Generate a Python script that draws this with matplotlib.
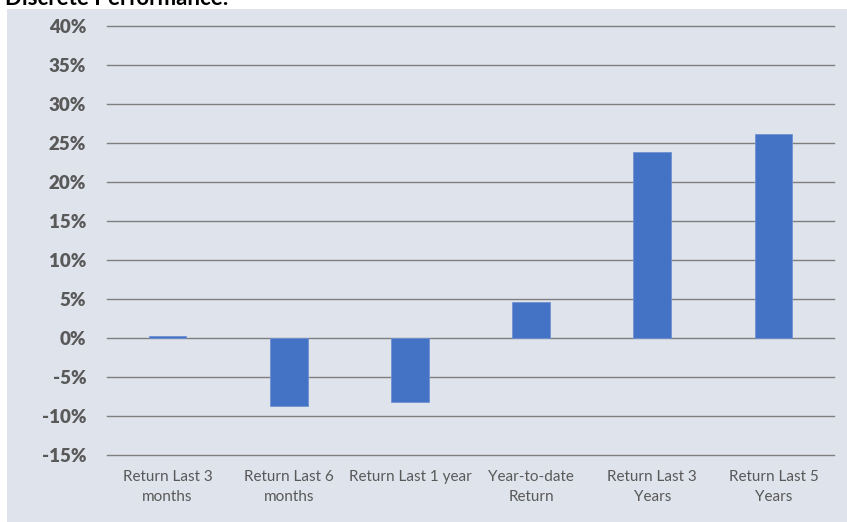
import matplotlib
matplotlib.use("Agg")
import matplotlib.pyplot as plt
from matplotlib.patches import Rectangle
from matplotlib.ticker import FuncFormatter

categories = ["Return Last 3\nmonths", "Return Last 6\nmonths", "Return Last 1 year",
              "Year-to-date\nReturn", "Return Last 3\nYears", "Return Last 5\nYears"]
values = [0.3, -8.7, -8.2, 4.6, 23.8, 26.1]
yticks = [-15, -10, -5, 0, 5, 10, 15, 20, 25, 30, 35, 40]
title = "Discrete Performance:"

W, H = 847, 522
fig = plt.figure(figsize=(W / 100, H / 100), dpi=100, facecolor="white")
fig.patches.append(Rectangle((7 / W, 0), 1 - 7 / W, 1 - 9 / H, transform=fig.transFigure,
                             facecolor="#DFE3EB", edgecolor="none", zorder=-10))

ax = fig.add_axes([107 / W, 1 - 455 / H, (834 - 107) / W, (455 - 26) / H])
ax.set_facecolor("none")
x = list(range(len(categories)))
ax.bar(x, values, width=0.31, color="#4472C4", edgecolor="#6F90D2", linewidth=0.6, zorder=3)
ax.set_xlim(-0.5, len(categories) - 0.5)
ax.set_ylim(-15, 40)
ax.set_yticks(yticks)
ax.yaxis.set_major_formatter(FuncFormatter(lambda v, p: f"{int(v)}%"))
ax.set_xticks(x)
ax.set_xticklabels(categories, fontfamily="Lato", fontsize=11, color="#595959", linespacing=1.55)
for lab in ax.get_yticklabels():
    lab.set_fontfamily("Lato")
    lab.set_fontweight("heavy")
    lab.set_fontsize(13.5)
    lab.set_color("#595959")
ax.tick_params(axis="y", length=0, pad=15)
ax.tick_params(axis="x", length=0, pad=11)
ax.grid(axis="y", color="#7F7F7F", linewidth=1.0, zorder=1)
for gl in ax.get_ygridlines():
    gl.set_clip_on(False)
ax.set_axisbelow(True)
for s in ax.spines.values():
    s.set_visible(False)

fig.text(5 / W, 1 - 5 / H, title, fontfamily="Lato", fontweight="bold", fontsize=16,
         color="black", va="baseline", ha="left")

fig.savefig("out.png", dpi=100, facecolor="white")
